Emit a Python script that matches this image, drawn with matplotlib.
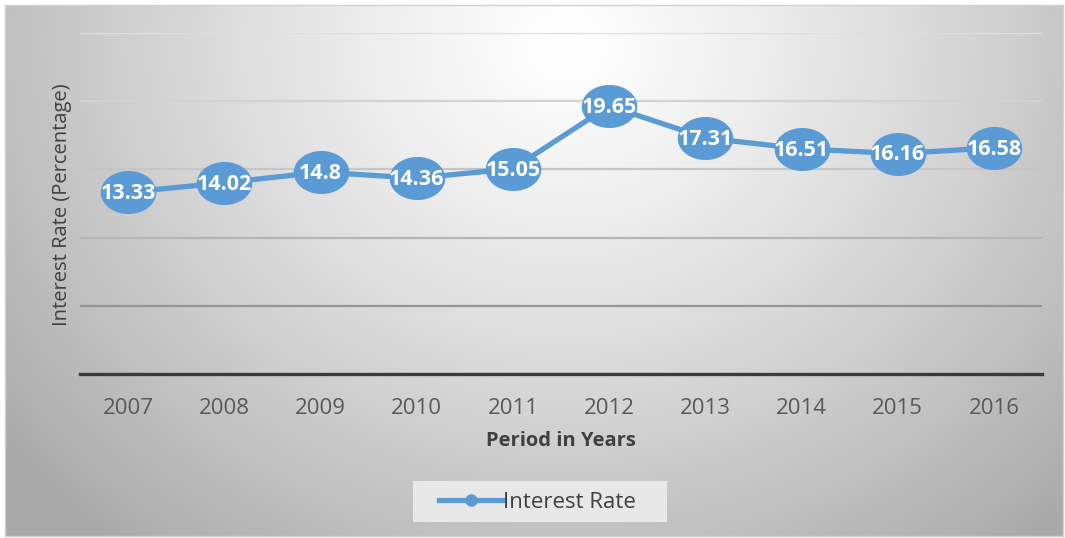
import numpy as np
import matplotlib
matplotlib.use("Agg")
import matplotlib.pyplot as plt
from matplotlib.path import Path
from matplotlib.markers import MarkerStyle
from matplotlib.lines import Line2D
from matplotlib.patches import Rectangle

years = ["2007", "2008", "2009", "2010", "2011", "2012", "2013", "2014", "2015", "2016"]
rates = [13.33, 14.02, 14.8, 14.36, 15.05, 19.65, 17.31, 16.51, 16.16, 16.58]
rate_labels = ["13.33", "14.02", "14.8", "14.36", "15.05", "19.65", "17.31", "16.51", "16.16", "16.58"]
series_name = "Interest Rate"
x_title = "Period in Years"
y_title = "Interest Rate (Percentage)"

W, H = 1065, 538
fig = plt.figure(figsize=(W / 100, H / 100), dpi=100)
fig.patch.set_facecolor("white")

# background gradient panel
bg = fig.add_axes([5 / W, 2 / H, 1058 / W, 531 / H], zorder=0)
yy, xx = np.mgrid[0:531, 0:1058]
cx, cy = 560, 40
d = np.sqrt(((xx - cx) / 600.0) ** 2 + ((yy - cy) / 540.0) ** 2)
v = 1.0 - 0.27 * np.clip(d, 0, 1.2) ** 1.2
img = np.dstack([v, v, v])
bg.imshow(img, aspect="auto", interpolation="bilinear", extent=[0, 1, 0, 1], origin="upper")
bg.set_xlim(0, 1); bg.set_ylim(0, 1)
bg.set_xticks([]); bg.set_yticks([])
for s in bg.spines.values():
    s.set_color("#d0d0d0"); s.set_linewidth(1.0)

ax = fig.add_axes([80 / W, (H - 374) / H, (1042 - 80) / W, (374 - 33) / H], zorder=1)
ax.patch.set_alpha(0)
x = np.arange(len(years))
ax.set_xlim(-0.5, len(years) - 0.5)
ax.set_ylim(0, 25)
ticks = np.arange(0, 26, 5)
ax.set_yticks(ticks)
ax.set_yticklabels([])
ax.tick_params(axis="y", length=0)
grid_cols = ["#404040", "#959595", "#b5b5b5", "#c6c6c6", "#d2d2d2", "#dedede"]
for t, c in zip(ticks[1:], grid_cols[1:]):
    ax.axhline(t, color=c, lw=1.6, zorder=1)
for s in ["top", "right", "left"]:
    ax.spines[s].set_visible(False)
ax.spines["bottom"].set_color("#3a3a3a")
ax.spines["bottom"].set_linewidth(2.4)
ax.set_xticks(x)
ax.set_xticklabels(years, fontsize=16, color="#595959", family="Open Sans")
ax.tick_params(axis="x", length=0, pad=17)

# ellipse marker
theta = np.linspace(0, 2 * np.pi, 64)
verts = np.column_stack([1.3 * np.cos(theta), np.sin(theta)])
ell = MarkerStyle(Path(verts, closed=True))
blue = "#5B9BD5"
ax.plot(x, rates, color=blue, lw=3.8, zorder=3, solid_capstyle="round")
ax.plot(x, rates, linestyle="none", marker=ell, markersize=39, markerfacecolor=blue,
        markeredgecolor=blue, zorder=4)
for xi, yi, lab in zip(x, rates, rate_labels):
    ax.text(xi, yi - 0.1, lab, ha="center", va="center", color="white", fontsize=15.5,
            fontweight="bold", family="Open Sans", zorder=5)

ax.set_xlabel(x_title, fontsize=14.5, fontweight="bold", color="#404040", family="Open Sans",
              labelpad=9)
fig.text(62 / W, 1 - 205 / H, y_title, rotation=90, ha="center", va="center",
         fontsize=14.5, color="#404040", family="Open Sans")

# legend box
fig.patches.append(Rectangle((413 / W, (H - 522) / H), 254 / W, 41 / H,
                             transform=fig.transFigure, facecolor="#e8e8e8",
                             edgecolor="none", zorder=2))
handle = Line2D([], [], color=blue, lw=3.8, marker="o", markersize=8)
leg = fig.legend([handle], [series_name], loc="center left",
                 bbox_to_anchor=(432 / W, 1 - 502 / H),
                 frameon=False, handlelength=2.9, handletextpad=0.0,
                 borderpad=0.3, borderaxespad=0,
                 prop={"family": "Open Sans", "size": 16})
leg.set_zorder(3)
for t in leg.get_texts():
    t.set_color("#404040")

fig.savefig("out.png", dpi=100)
